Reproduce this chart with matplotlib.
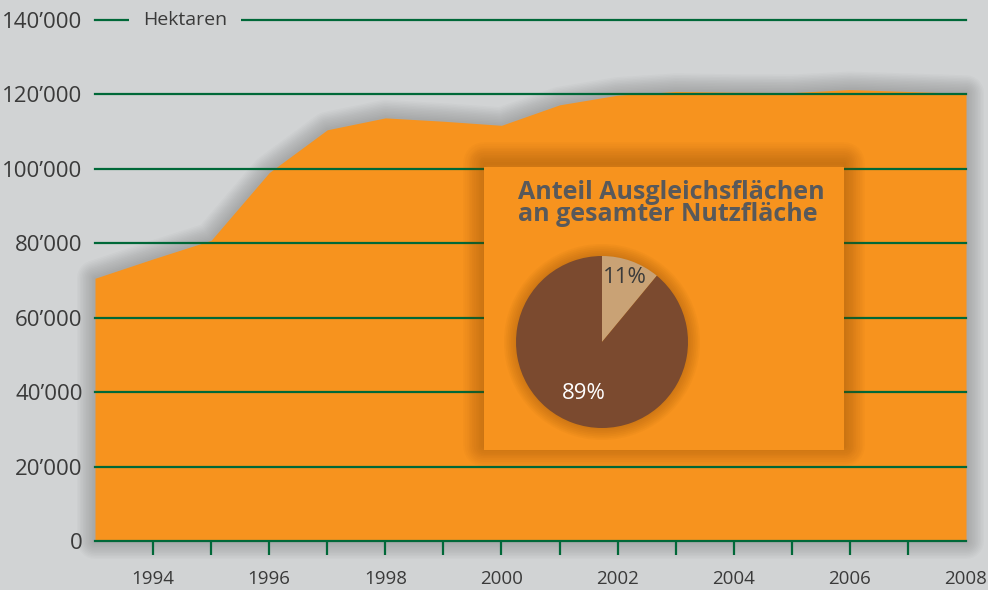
import numpy as np
import matplotlib
matplotlib.use("Agg")
import matplotlib.pyplot as plt
from matplotlib import font_manager
from matplotlib.patches import Rectangle, Circle

# data
years = [1993, 1994, 1995, 1996, 1997, 1998, 1999, 2000, 2001, 2002, 2003, 2004, 2005, 2006, 2007, 2008]
hectares = [70600, 75800, 80800, 99000, 110500, 113700, 112800, 111700, 117200, 119800,
            120800, 120600, 120500, 121300, 120800, 120300]
tick_years = list(range(1994, 2008))
y_ticks = [0, 20000, 40000, 60000, 80000, 100000, 120000, 140000]
y_labels = ["0", "20\u2019000", "40\u2019000", "60\u2019000", "80\u2019000", "100\u2019000", "120\u2019000", "140\u2019000"]
x_label_years = [1994, 1996, 1998, 2000, 2002, 2004, 2006, 2008]
pie_labels = ["11%", "89%"]
pie_values = [11, 89]
inset_title = "Anteil Ausgleichsflächen\nan gesamter Nutzfläche"

BG = "#d1d3d4"
ORANGE = "#f7931e"
GREEN = "#006838"
TEXT = "#3a3a3a"

# pick a narrow font if one is around
names = {f.name for f in font_manager.fontManager.ttflist}
font = "Open Sans"
for cand in ["Liberation Sans Narrow", "DejaVu Sans Condensed", "Open Sans"]:
    if cand in names:
        font = cand
        break
plt.rcParams["font.family"] = [font, "DejaVu Sans"]

W, H = 988, 590
fig = plt.figure(figsize=(W / 100, H / 100), dpi=100, facecolor=BG)


def fx(px):
    return px / W


def fy(py):
    return 1 - py / H


ax = fig.add_axes([fx(95), fy(541), fx(966) - fx(95), fy(20) - fy(541)])
ax.set_facecolor("none")
ax.set_xlim(1993, 2008)
ax.set_ylim(0, 140000)

# soft shadow around the area
for lw in np.linspace(2, 26, 12):
    ax.fill_between(years, hectares, 0, facecolor="none", edgecolor="#222222",
                    alpha=0.02, lw=lw, joinstyle="round", clip_on=False, zorder=1)
ax.fill_between(years, hectares, 0, color=ORANGE, lw=0, zorder=2)

# grid lines
for yv in y_ticks[1:]:
    ax.axhline(yv, color=GREEN, lw=1.6, zorder=3, clip_on=False)
ax.text(1994.55, 140000, "Hektaren", ha="center", va="center", fontsize=14, color=TEXT,
        zorder=4, bbox=dict(facecolor=BG, edgecolor="none", pad=10))

for s in ["top", "right", "left"]:
    ax.spines[s].set_visible(False)
ax.spines["bottom"].set_color(GREEN)
ax.spines["bottom"].set_linewidth(1.6)
ax.spines["bottom"].set_zorder(5)

ax.set_xticks(tick_years)
ax.set_xticklabels([str(y) if y in x_label_years else "" for y in tick_years])
ax.set_xticks(x_label_years[-1:], labels=["2008"], minor=True)
ax.tick_params(axis="x", which="major", direction="out", length=10, width=1.6, color=GREEN,
               pad=11, labelsize=13.5, labelcolor=TEXT)
ax.tick_params(axis="x", which="minor", length=0, pad=21, labelsize=13.5, labelcolor=TEXT)
ax.set_yticks(y_ticks)
ax.set_yticklabels(y_labels)
ax.tick_params(axis="y", length=0, pad=9, labelsize=16, labelcolor=TEXT)

# inset box with shadow
bx0, by0, bx1, by1 = 484, 167, 844, 450
for lw in np.linspace(2, 30, 12):
    fig.patches.append(Rectangle((fx(bx0), fy(by1 - 4)), fx(bx1) - fx(bx0), fy(by0 - 4) - fy(by1 - 4),
                                 transform=fig.transFigure, facecolor="none", edgecolor="#7a4000",
                                 alpha=0.03, lw=lw, joinstyle="round", zorder=6))
inset = fig.add_axes([fx(bx0), fy(by1), fx(bx1) - fx(bx0), fy(by0) - fy(by1)], zorder=7)
inset.set_facecolor(ORANGE)
inset.set_xticks([])
inset.set_yticks([])
for s in inset.spines.values():
    s.set_visible(False)

fig.text(fx(518), fy(180), inset_title, ha="left", va="top", fontsize=18, fontweight="bold",
         color="#58595b", linespacing=0.85, zorder=8)

# pie
cx, cy, r = 602, 342, 86
pax = fig.add_axes([fx(cx - r - 30), fy(cy + r + 30), fx(2 * r + 60), fy(0) - fy(2 * r + 60)], zorder=8)
pax.set_facecolor("none")
for rr in np.linspace(1.0, 1.14, 8):
    pax.add_patch(Circle((0, 0), rr, color="#6b3500", alpha=0.04, lw=0))
wedges, _ = pax.pie(pie_values, colors=["#c9a275", "#7b4a2f"], startangle=90,
                    counterclock=False, radius=1.0, wedgeprops=dict(lw=0))
for w, lab, dist, col in zip(wedges, pie_labels, [0.8, 0.64], [TEXT, "white"]):
    ang = np.deg2rad((w.theta1 + w.theta2) / 2)
    pax.text(dist * np.cos(ang), dist * np.sin(ang), lab, ha="center", va="center",
             fontsize=16, color=col)
# pie() resets the limits, so set them afterwards
lim = (r + 30) / r
pax.set_xlim(-lim, lim)
pax.set_ylim(-lim, lim)
pax.set_aspect("equal")
pax.axis("off")

fig.savefig("out.png", dpi=100, facecolor=BG)
